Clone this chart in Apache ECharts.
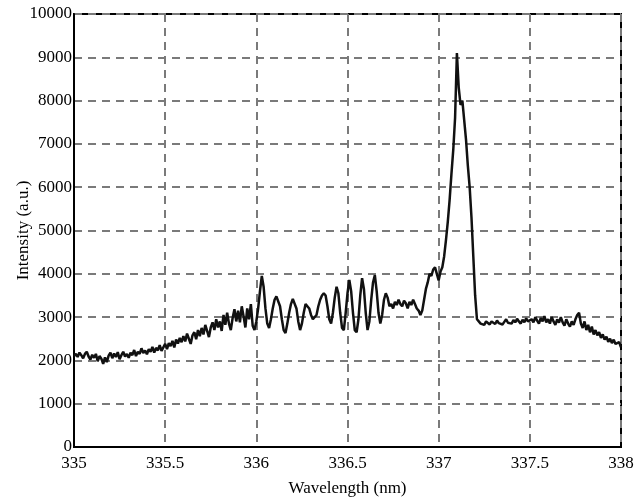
<!DOCTYPE html>
<html>
<head>
<meta charset="utf-8">
<script src="https://cdn.jsdelivr.net/npm/echarts@6/dist/echarts.min.js"></script>
<style>html,body{margin:0;padding:0;background:#fff;}#chart{width:639px;height:501px;}</style>
</head>
<body>
<div id="chart"></div>
<script>
// Sampling: start wavelength and step (nm)
const startWavelength = 335.00;
const stepWavelength = 0.01;
// Intensity (a.u.), one value per 0.01 nm from 335.00 to 338.00
const intensity = [
  2100, 2150, 2080, 2180, 2120, 2050, 2150, 2200, 2090, 2020,
  2130, 2060, 2150, 1980, 2100, 2040, 1920, 2070, 1960, 2110,
  2180, 2050, 2160, 2080, 2190, 2030, 2120, 2200, 2090, 2150,
  2060, 2180, 2120, 2240, 2100, 2200, 2150, 2280, 2170, 2230,
  2140, 2260, 2200, 2310, 2180, 2290, 2230, 2350, 2220, 2300,
  2380, 2260, 2400, 2330, 2450, 2300, 2480, 2390, 2520, 2420,
  2560, 2440, 2620, 2500, 2380, 2580, 2650, 2490, 2700, 2560,
  2750, 2600, 2820, 2680, 2540, 2760, 2880, 2700, 2950, 2760,
  2900, 2680, 3050, 2820, 3100, 2850, 2700, 2980, 3180, 2900,
  3150, 2880, 3250, 3020, 2760, 3200, 2950, 3300, 2800, 2700,
  2900, 3200, 3600, 3950, 3700, 3200, 2850, 2750, 2950, 3200,
  3400, 3480, 3500, 3250, 2950, 2700, 2630, 2850, 3100, 3300,
  3420, 3440, 3200, 2900, 2700, 2850, 3100, 3300, 3330, 3200,
  3050, 2950, 2930, 3050, 3250, 3400, 3500, 3550, 3500, 3250,
  2950, 2850, 3100, 3450, 3700, 3550, 3100, 2750, 2700, 3100,
  3550, 3860, 3600, 3100, 2700, 2650, 2950, 3500, 3900, 3650,
  3100, 2700, 2900, 3400, 3800, 3970, 3600, 3100, 2850, 3050,
  3400, 3550, 3450, 3250, 3300, 3200, 3350, 3280, 3400, 3300,
  3250, 3380, 3320, 3200, 3350, 3280, 3400, 3300, 3200, 3150,
  3050, 3150, 3400, 3650, 3800, 4000, 3950, 4100, 4150, 4000,
  3850, 4050, 4150, 4400, 4780, 5200, 5700, 6300, 6860, 7600,
  9100, 8300, 7900, 8000, 7550, 7100, 6500, 6000, 5300, 4400,
  3500, 2950, 2900, 2850, 2880, 2820, 2900, 2860, 2830, 2900,
  2870, 2840, 2920, 2860, 2900, 2830, 2890, 2950, 2870, 2910,
  2850, 2930, 2880, 2960, 2900, 2850, 2940, 2880, 2970, 2900,
  2860, 2950, 2880, 3000, 2920, 2850, 2980, 2900, 3020, 2880,
  2950, 2850, 3000, 2900, 2820, 2950, 2870, 3000, 2880, 2800,
  2950, 2850, 2780, 2900, 2820, 2950, 3050, 3100, 2850, 2750,
  2900, 2700, 2820, 2650, 2780, 2600, 2700, 2580, 2650, 2520,
  2600, 2480, 2550, 2430, 2500, 2400, 2480, 2380, 2350, 2420,
  2300
];
const xTicks = [335, 335.5, 336, 336.5, 337, 337.5, 338];
const yTicks = [0, 1000, 2000, 3000, 4000, 5000, 6000, 7000, 8000, 9000, 10000];

const seriesData = intensity.map((v, i) => [+(startWavelength + i * stepWavelength).toFixed(2), v]);

const font = 'Liberation Serif, Times New Roman, serif';
const chart = echarts.init(document.getElementById('chart'));
chart.setOption({
  animation: false,
  backgroundColor: '#fff',
  grid: {
    left: 74, right: 18, top: 14, bottom: 54,
    outerBoundsMode: 'none', containLabel: false,
    show: true, borderColor: '#000', borderWidth: 2, backgroundColor: 'transparent'
  },
  xAxis: {
    type: 'value',
    min: xTicks[0], max: xTicks[xTicks.length - 1], interval: 0.5,
    name: 'Wavelength (nm)', nameLocation: 'middle', nameGap: 33, nameMoveOverlap: false,
    nameTextStyle: { fontFamily: font, fontSize: 17, color: '#000' },
    axisLine: { show: true, lineStyle: { color: '#000', width: 2 } },
    axisTick: { show: false },
    axisLabel: { fontFamily: font, fontSize: 17, color: '#000', margin: 8, formatter: v => String(v) },
    splitLine: { show: true, lineStyle: { color: '#7a7a7a', width: 2, type: [8, 6] } }
  },
  yAxis: {
    type: 'value',
    min: yTicks[0], max: yTicks[yTicks.length - 1], interval: 1000,
    name: 'Intensity (a.u.)', nameLocation: 'middle', nameGap: 42, nameMoveOverlap: false,
    nameTextStyle: { fontFamily: font, fontSize: 17, color: '#000' },
    axisLine: { show: true, lineStyle: { color: '#000', width: 2 } },
    axisTick: { show: false },
    axisLabel: { fontFamily: font, fontSize: 17, color: '#000', margin: 2, formatter: v => String(v) },
    splitLine: { show: true, lineStyle: { color: '#7a7a7a', width: 2, type: [8, 6] } }
  },
  series: [{
    type: 'line',
    data: seriesData,
    showSymbol: false,
    lineStyle: { color: '#111', width: 2.5 },
    z: 3
  }]
});
</script>
</body>
</html>
